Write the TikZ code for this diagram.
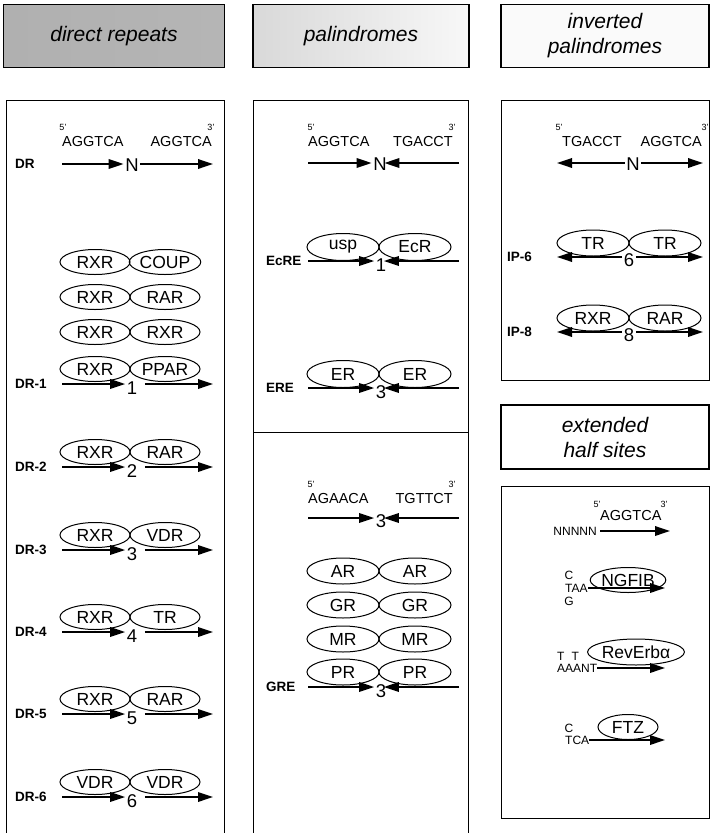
\documentclass[tikz,border=0pt]{standalone}
\usepackage{fontspec}
\setmainfont{Liberation Sans}
\usetikzlibrary{shapes.geometric,arrows.meta}

\tikzset{
  hdr/.style={draw, line width=1.2pt, inner sep=0pt, minimum height=63pt, align=center,
    font=\fontsize{21}{25}\selectfont\itshape},
  panel/.style={line width=1pt},
  recep/.style={ellipse, draw, line width=1pt, minimum width=70pt, minimum height=25pt,
    inner sep=0pt, font=\fontsize{17.5}{17.5}\selectfont},
  seq/.style={inner sep=0pt, font=\fontsize{14.5}{14.5}\selectfont},
  small/.style={inner sep=0pt, font=\fontsize{12}{12}\selectfont},
  prime/.style={inner sep=0pt, font=\fontsize{9}{9}\selectfont},
  site/.style={anchor=west, inner sep=0pt, font=\fontsize{13.5}{13.5}\selectfont\bfseries},
  spacer/.style={inner sep=1.5pt, font=\fontsize{18.5}{18.5}\selectfont},
  half/.style={line width=1.8pt, -{Triangle[length=15pt,width=9.5pt]}},
}

\begin{document}
\begin{tikzpicture}[x=1pt,y=-1pt]
  \useasboundingbox (0,0) rectangle (710,833);

  \node[hdr, left color=gray!62, middle color=gray!38, right color=gray!58, minimum width=221pt] (hdrDR) at (114,36) {direct repeats};
  \node[hdr, left color=gray!30, right color=gray!6, minimum width=216pt] (hdrPal) at (361,36) {palindromes};
  \node[hdr, fill=gray!4, minimum width=208pt] (hdrInv) at (605,36) {inverted\\palindromes};

  \draw[panel] (6,833) -- (6,100) -- (224,100) -- (224,833);
  \draw[panel] (253,833) -- (253,100) -- (468,100) -- (468,833);
  \draw[panel] (253,432) -- (468,432);
  \draw[panel] (501,100) rectangle (709,380);
  \node[hdr, minimum width=208pt, minimum height=64pt] (hdrExt) at (605,437) {extended\\half sites};
  \draw[panel] (501,486) rectangle (709,818);

  % direct repeats
  \node[prime] (dr5) at (63,127) {5'};
  \node[seq, anchor=west] (drSeqL) at (62,142) {AGGTCA};
  \node[seq, anchor=east] (drSeqR) at (212,142) {AGGTCA};
  \node[prime] (dr3) at (211,127) {3'};
  \node[site] (drLab) at (15,164) {DR};
  \coordinate (drA) at (62,164);
  \coordinate (drB) at (213,164);
  \node[spacer] (drN) at (132,165) {N};
  \draw[half] (drA) -- (drA -| drN.west);
  \draw[half] (drN.east |- drB) -- (drB);

  \foreach \y/\b in {262/COUP,297/RAR,332/RXR}{
    \node[recep] (stkL\b) at (95,\y) {RXR};
    \node[recep] (stkR\b) at (165,\y) {\b};
  }
  \foreach \k/\y/\a/\b in {1/384/RXR/PPAR,2/467/RXR/RAR,3/550/RXR/VDR,4/632/RXR/TR,5/714/RXR/RAR,6/797/VDR/VDR}{
    \node[recep] (drL\k) at (95,\y-15) {\a};
    \node[recep] (drR\k) at (165,\y-15) {\b};
    \node[site] (drLab\k) at (15,\y) {DR-\k};
    \coordinate (drS\k) at (62,\y);
    \coordinate (drE\k) at (213,\y);
    \node[spacer] (drG\k) at (132,\y+4) {\k};
    \draw[half] (drS\k) -- (drS\k -| drG\k.west);
    \draw[half] ([xshift=6pt]drG\k.east |- drE\k) -- (drE\k);
  }

  % palindromes
  \node[prime] (pal5) at (311,127) {5'};
  \node[seq, anchor=west] (palSeqL) at (308,142) {AGGTCA};
  \node[seq, anchor=east] (palSeqR) at (453,142) {TGACCT};
  \node[prime] (pal3) at (452,127) {3'};
  \coordinate (palA) at (308,163);
  \coordinate (palB) at (459,163);
  \node[spacer] (palN) at (380,164) {N};
  \draw[half] (palA) -- (palA -| palN.west);
  \draw[half] (palB) -- ([xshift=-4pt]palB -| palN.east);

  \foreach \nm/\y/\a/\b/\g in {EcRE/261/usp/EcR/1,ERE/388/ER/ER/3}{
    \node[recep, minimum width=72pt, minimum height=27pt] (palL\nm) at (343,\y-14) {\a};
    \node[recep, minimum width=72pt, minimum height=27pt] (palR\nm) at (415,\y-14) {\b};
    \node[site] (palLab\nm) at (266,\y) {\nm};
    \coordinate (palS\nm) at (308,\y);
    \coordinate (palE\nm) at (459,\y);
    \node[spacer] (palG\nm) at (381,\y+4) {\g};
    \draw[half] (palS\nm) -- (palS\nm -| palG\nm.west);
    \draw[half] (palE\nm) -- ([xshift=-4pt]palE\nm -| palG\nm.east);
  }

  \node[prime] (gre5) at (311,484) {5'};
  \node[seq, anchor=west] (greSeqL) at (308,499) {AGAACA};
  \node[seq, anchor=east] (greSeqR) at (453,499) {TGTTCT};
  \node[prime] (gre3) at (452,484) {3'};
  \coordinate (greA) at (308,518);
  \coordinate (greB) at (459,518);
  \node[spacer] (greN) at (381,521) {3};
  \draw[half] (greA) -- (greA -| greN.west);
  \draw[half] (greB) -- ([xshift=-4pt]greB -| greN.east);

  \foreach \r/\y in {AR/571,GR/605,MR/639,PR/672}{
    \node[recep, minimum width=72pt, minimum height=26pt] (greL\r) at (343,\y) {\r};
    \node[recep, minimum width=72pt, minimum height=26pt] (greR\r) at (415,\y) {\r};
  }
  \node[site] (greLab) at (266,687) {GRE};
  \coordinate (greS) at (308,687);
  \coordinate (greE) at (459,687);
  \node[spacer] (greG) at (381,691) {3};
  \draw[half] (greS) -- (greS -| greG.west);
  \draw[half] (greE) -- ([xshift=-4pt]greE -| greG.east);

  % inverted palindromes
  \node[prime] (inv5) at (559,127) {5'};
  \node[seq, anchor=west] (invSeqL) at (562,142) {TGACCT};
  \node[seq, anchor=east] (invSeqR) at (702,142) {AGGTCA};
  \node[prime] (inv3) at (705,127) {3'};
  \coordinate (invA) at (557,163);
  \coordinate (invB) at (703,163);
  \node[spacer] (invN) at (633,164) {N};
  \draw[half] (invN.west |- invA) -- (invA);
  \draw[half] (invN.east |- invB) -- (invB);

  \foreach \nm/\y/\a/\b/\g in {IP-6/257/TR/TR/6,IP-8/332/RXR/RAR/8}{
    \node[recep, minimum width=72pt, minimum height=26pt] (invL\g) at (593,\y-14) {\a};
    \node[recep, minimum width=72pt, minimum height=26pt] (invR\g) at (665,\y-14) {\b};
    \node[site] (invLab\g) at (507,\y) {\nm};
    \coordinate (invS\g) at (557,\y);
    \coordinate (invE\g) at (703,\y);
    \node[spacer] (invG\g) at (629,\y+3) {\g};
    \draw[half] (invG\g.west |- invS\g) -- (invS\g);
    \draw[half] (invG\g.east |- invE\g) -- (invE\g);
  }

  % extended half sites
  \node[prime] (ext5) at (597,504) {5'};
  \node[seq, anchor=west] (extSeq) at (600,516) {AGGTCA};
  \node[prime] (ext3) at (664,504) {3'};
  \node[small, anchor=east] (extN) at (597,531) {NNNNN};
  \coordinate (extE) at (670,531);
  \draw[half] ([xshift=3pt]extN.east) -- (extE);

  \node[recep, minimum width=60pt, minimum height=25pt] (ngfib) at (628,580) {NGFIB};
  \node[small] (ngC) at (569,575) {C};
  \node[small, anchor=west] (ngTAA) at (565,588) {TAA};
  \node[small] (ngG) at (569,601) {G};
  \coordinate (ngE) at (665,588);
  \draw[half] (ngTAA.east) -- (ngE);

  \node[recep, minimum width=76pt, minimum height=26pt] (reverb) at (636,652) {RevErbα};
  \node[small, anchor=west] (reTT) at (557,656) {T\hspace{7pt}T};
  \node[small, anchor=west] (reAAANT) at (557,668) {AAANT};
  \coordinate (reE) at (665,668);
  \draw[half] (reAAANT.east) -- (reE);

  \node[recep, minimum width=60pt, minimum height=25pt] (ftz) at (628,727) {FTZ};
  \node[small] (ftzC) at (569,728) {C};
  \node[small, anchor=west] (ftzTCA) at (565,740) {TCA};
  \coordinate (ftzE) at (665,740);
  \draw[half] (ftzTCA.east) -- (ftzE);
\end{tikzpicture}
\end{document}
